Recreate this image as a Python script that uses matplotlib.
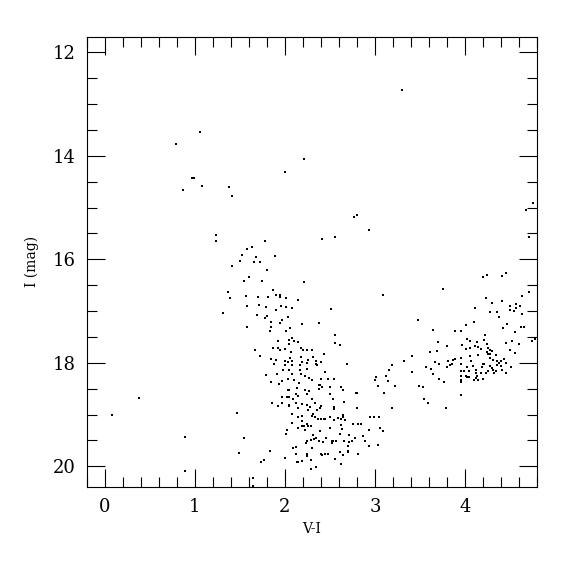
import numpy as np
import matplotlib
matplotlib.use('Agg')
import matplotlib.pyplot as plt
from matplotlib.ticker import MultipleLocator

# sparse field stars / bright stars
field_vi = [3.30, 0.785, 1.054, 0.965, 0.985, 1.077, 0.866, 1.38, 1.41, 1.24, 1.23,
            2.216, 2.0, 0.377, 0.085, 0.895, 0.895, 1.465, 3.09, 2.51, 3.185]
field_i = [12.72, 13.78, 13.53, 14.43, 14.42, 14.58, 14.67, 14.60, 14.78, 15.53, 15.65,
           14.06, 14.31, 18.68, 19.00, 19.43, 20.09, 18.97, 16.69, 16.96, 18.87]

# upper blue plume and main sequence band (V-I < 2.3 roughly)
ms_vi = [1.41, 1.37, 1.395, 1.31,
         2.80, 2.77, 2.93, 2.41, 2.56, 1.776, 1.63, 1.58, 1.52, 1.68, 1.89, 1.50, 1.66,
         1.72, 1.80, 1.60, 1.55, 1.74, 2.21, 1.87, 1.90, 1.95, 1.565, 1.70, 1.81, 1.94,
         2.01, 2.145, 1.576, 1.71, 1.79, 1.957, 2.01, 2.08, 1.90, 1.69, 1.776, 1.80,
         2.03, 1.97, 1.85, 1.94, 2.19, 2.38, 1.576, 1.85, 2.06, 1.835, 2.01, 2.56,
         1.92, 2.04, 2.08, 2.105, 2.14, 2.045, 1.87, 1.92, 1.94, 2.00, 1.665, 2.175,
         2.20, 2.25, 1.72, 2.07, 1.84, 1.90, 2.06, 2.005, 2.03, 2.08, 2.175, 2.19,
         2.255, 1.88, 2.0, 2.075, 2.17, 2.24, 1.98, 2.05, 2.17, 2.24, 1.79, 1.91, 2.08,
         2.18, 2.22, 2.27, 2.03, 2.10, 1.97, 1.85, 1.93, 2.16, 2.13, 2.03, 2.05, 2.22,
         2.27, 2.12, 2.25, 1.97, 2.02, 2.045, 2.095, 2.145, 1.86, 1.92, 1.97, 2.045,
         2.045, 2.12, 2.19, 2.15, 2.25, 2.28, 2.26,
         2.08, 2.15, 2.19, 2.19, 2.08, 2.19, 2.21, 2.24, 2.26, 2.29, 2.15, 2.22, 2.02,
         2.01, 1.54, 2.25, 2.29, 2.23, 2.09, 2.12, 1.835, 1.495, 2.12, 2.24, 2.0, 2.25,
         1.77, 1.73, 2.13, 2.14, 2.19, 2.29, 2.29, 1.65, 1.64]
ms_i = [16.12, 16.64, 16.75, 17.04,
        15.14, 15.19, 15.44, 15.60, 15.57, 15.65, 15.77, 15.81, 15.92, 15.95, 15.93,
        16.03, 16.06, 16.05, 16.20, 16.35, 16.42, 16.41, 16.44, 16.60, 16.69, 16.68,
        16.70, 16.73, 16.73, 16.73, 16.75, 16.78, 16.90, 16.88, 16.93, 16.90, 16.93,
        16.94, 16.97, 17.08, 17.13, 17.09, 17.12, 17.17, 17.21, 17.23, 17.25, 17.24,
        17.30, 17.30, 17.33, 17.39, 17.39, 17.47,
        17.57, 17.55, 17.52, 17.58, 17.60, 17.63, 17.71, 17.71, 17.76, 17.73, 17.75,
        17.72, 17.75, 17.75, 17.87, 17.80, 17.92, 17.94, 17.91, 17.96, 17.98, 17.97,
        17.89, 17.99, 17.94, 18.03, 18.05, 18.04, 18.04, 18.01, 18.13, 18.13, 18.13,
        18.11, 18.24, 18.21, 18.22, 18.21, 18.25, 18.30, 18.31, 18.33, 18.35, 18.37,
        18.40, 18.39, 18.49, 18.53, 18.53, 18.53, 18.54, 18.60, 18.60, 18.66, 18.67,
        18.67, 18.69, 18.65, 18.78, 18.84, 18.78, 18.81, 18.84, 18.78, 18.79, 18.87,
        18.82, 18.86, 18.92,
        18.98, 19.05, 19.03, 19.13, 19.17, 19.22, 19.22, 19.19, 19.23, 19.23, 19.25,
        19.30, 19.30, 19.38, 19.46, 19.51, 19.49, 19.55, 19.64, 19.62, 19.70, 19.75,
        19.77, 19.76, 19.83, 19.81, 19.88, 19.92, 19.92, 19.92, 19.89, 19.88, 20.06,
        20.22, 20.38]

# redder faint sequence (2.3 < V-I < 3.2)
sg_vi = [2.555, 2.61, 2.305, 2.43, 2.31, 2.34, 2.40, 2.35, 2.36, 2.685, 2.445, 2.305,
         2.40, 2.48, 2.55, 2.375, 2.39, 2.415, 2.375, 2.505, 2.62, 2.64, 2.785, 2.80,
         2.505, 3.015, 3.005, 3.12, 3.03, 3.095, 2.305, 2.53, 2.33, 2.655, 2.405, 2.39,
         2.55, 2.54, 2.36, 2.80,
         2.315, 2.305, 2.33, 2.40, 2.43, 2.37, 2.44, 2.50, 2.545, 2.585, 2.62, 2.64,
         2.65, 2.665, 2.94, 2.99, 3.04, 2.76, 2.81, 2.85, 3.06, 3.09, 2.62, 2.63, 2.505,
         2.385, 2.315, 2.35, 2.32, 2.455, 2.61, 2.71, 2.865, 2.93, 2.38, 2.42, 2.52,
         2.53, 2.57, 2.66, 2.715, 2.74, 2.78, 2.89, 2.305, 2.52, 2.70, 2.705, 2.70,
         2.93, 3.03, 2.81, 2.40, 2.44, 2.48, 2.41, 2.61, 2.645, 2.56, 2.62, 2.35]
sg_i = [17.62, 17.66, 17.75, 17.82, 17.88, 17.96, 17.99, 18.02, 18.05, 18.02, 18.18,
        18.34, 18.32, 18.32, 18.31, 18.43, 18.42, 18.46, 18.50, 18.47, 18.46, 18.53,
        18.59, 18.58, 18.61, 18.27, 18.34, 18.25, 18.45, 18.59, 18.69, 18.70, 18.77,
        18.76, 18.83, 18.87, 18.86, 18.89, 18.92, 18.88,
        18.99, 19.03, 19.04, 19.08, 19.08, 19.09, 19.08, 19.05, 19.10, 19.06, 19.08,
        19.04, 19.01, 19.10, 19.05, 19.05, 19.05, 19.19, 19.19, 19.19, 19.26, 19.32,
        19.21, 19.27, 19.25, 19.32, 19.40, 19.45, 19.48, 19.46, 19.38, 19.39, 19.41,
        19.30, 19.51, 19.53, 19.51, 19.52, 19.51, 19.51, 19.53, 19.52, 19.45, 19.52,
        19.64, 19.55, 19.61, 19.71, 19.73, 19.60, 19.58, 19.77, 19.76, 19.76, 19.76,
        19.79, 19.73, 19.78, 19.85, 19.95, 20.01]

# red branch (V-I > 3.1)
rgb_vi = [4.76, 4.68, 4.71, 4.20, 4.24, 4.41, 4.455, 3.75, 4.23, 4.30, 4.41, 4.63, 4.71,
          4.11, 4.495, 4.565, 4.61, 4.505, 4.54, 4.57, 4.28, 4.35, 4.63, 4.38, 3.48,
          4.10, 4.01, 4.47, 4.62, 4.66, 4.425, 3.64, 3.89, 3.95, 4.55, 4.22,
          3.70, 4.02, 4.055, 3.97, 4.13, 4.21, 4.24, 4.11, 4.14, 4.01, 4.055, 4.18, 4.25,
          4.28, 4.30, 4.24, 4.25, 4.28, 4.46, 4.52, 4.595, 4.74, 4.78, 4.505, 4.55, 3.61,
          3.69, 3.80, 4.14, 4.06, 4.34, 4.28, 4.31, 4.35, 4.40, 4.43, 4.455, 4.38, 3.95,
          3.89, 3.87, 3.81, 3.67, 3.71, 3.85, 3.83, 3.95, 4.07, 4.195, 4.21, 4.19, 4.28,
          4.30, 4.35, 4.40, 4.31, 4.34, 4.41, 4.51, 4.46, 4.32, 4.25, 4.23, 4.12, 4.085,
          4.02, 3.99, 4.04, 3.955, 4.125, 4.18, 4.01, 4.025, 4.04, 3.955, 4.13, 4.125,
          4.10, 4.14, 4.195, 3.96, 3.96, 3.80, 3.57, 3.62, 3.65, 3.71, 3.77, 3.49, 3.53,
          3.955, 3.54, 3.585, 3.785, 3.415, 3.32, 3.19, 3.16, 3.41, 3.15, 3.22]
rgb_i = [14.92, 15.05, 15.56, 16.35, 16.31, 16.32, 16.26, 16.57, 16.75, 16.85, 16.80,
         16.70, 16.64, 16.94, 16.90, 16.87, 16.91, 16.97, 17.00, 16.95, 17.01, 17.02,
         17.06, 17.12, 17.18, 17.21, 17.26, 17.25, 17.31, 17.31, 17.33, 17.37, 17.38,
         17.38, 17.40, 17.47,
         17.59, 17.53, 17.57, 17.66, 17.59, 17.55, 17.63, 17.67, 17.69, 17.73, 17.71,
         17.73, 17.72, 17.76, 17.77, 17.80, 17.82, 17.82, 17.61, 17.57, 17.64, 17.58,
         17.54, 17.76, 17.81, 17.80, 17.77, 17.67, 17.85, 17.87, 17.85, 17.91, 17.94,
         17.96, 17.96, 17.92, 18.00, 18.00, 17.90, 17.92, 17.94, 17.96, 17.98, 18.02,
         18.03, 18.05, 18.03, 17.96, 18.02, 18.02, 18.09, 18.06, 18.10, 18.05, 18.07,
         18.13, 18.15, 18.14, 18.09, 18.20, 18.19, 18.16, 18.20, 18.13, 18.07, 18.09,
         18.16, 18.16, 18.15, 18.19, 18.20, 18.25, 18.27, 18.27, 18.25, 18.25, 18.29,
         18.34, 18.34, 18.31, 18.33, 18.38, 18.09, 18.08, 18.12, 18.21, 18.32, 18.38,
         18.44, 18.46, 18.63, 18.69, 18.77, 18.87, 17.87, 17.96, 18.05, 18.13, 18.17,
         18.35, 18.45]

plt.rcParams['font.family'] = 'DejaVu Serif'

fig = plt.figure(figsize=(5.75, 5.75), dpi=100)
ax = fig.add_axes([0.151, 0.153, 0.783, 0.783])

for xs, ys in [(field_vi, field_i), (ms_vi, ms_i), (sg_vi, sg_i), (rgb_vi, rgb_i)]:
    ax.plot(xs, ys, 's', color='k', markersize=1.6, markeredgewidth=0)

ax.set_xlim(-0.2, 4.8)
ax.set_ylim(20.4, 11.7)

ax.xaxis.set_major_locator(MultipleLocator(1))
ax.xaxis.set_minor_locator(MultipleLocator(0.2))
ax.yaxis.set_major_locator(MultipleLocator(2))
ax.yaxis.set_minor_locator(MultipleLocator(0.5))
ax.tick_params(which='both', direction='in', top=True, right=True, width=0.8)
ax.tick_params(which='major', length=13, labelsize=13, pad=8)
ax.tick_params(which='minor', length=7)
for s in ax.spines.values():
    s.set_linewidth(0.8)

ax.set_xlabel('V-I', fontsize=10)
ax.set_ylabel('I (mag)', fontsize=10, labelpad=10)

fig.savefig('out.png', dpi=100)
